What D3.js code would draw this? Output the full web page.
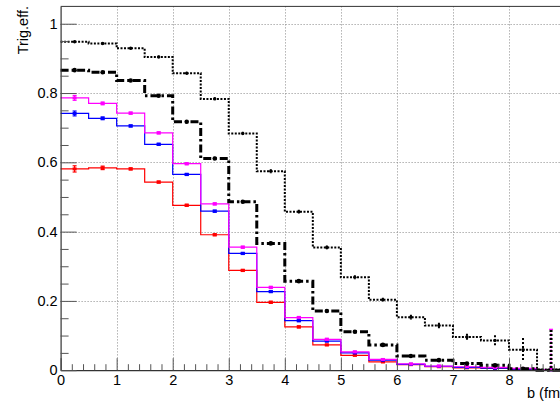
<!DOCTYPE html>
<html>
<head>
<meta charset="utf-8">
<script src="https://cdn.jsdelivr.net/npm/d3@7"></script>
<style>
  html, body { margin: 0; padding: 0; background: #fff; }
  svg { display: block; font-family: "Liberation Sans", Arial, Helvetica, sans-serif; }
</style>
</head>
<body>
<svg id="chart" width="560" height="403"></svg>
<script>
// Lower edges of the impact-parameter bins (fm), bin width 0.5 fm
const binLow = [0, 0.5, 1, 1.5, 2, 2.5, 3, 3.5, 4, 4.5, 5, 5.5, 6, 6.5, 7, 7.5, 8, 8.5];
const binWidth = 0.5;

// Trigger efficiency per bin for each selection
const effDotted   = [0.948, 0.943, 0.929, 0.904, 0.857, 0.783, 0.683, 0.574, 0.457, 0.354, 0.268, 0.203, 0.153, 0.129, 0.096, 0.086, 0.059, 0.002];
const errDotted   = [0.003, 0.003, 0.003, 0.004, 0.004, 0.005, 0.005, 0.006, 0.006, 0.006, 0.006, 0.006, 0.007, 0.008, 0.009, 0.015, 0.034, 0.010];
const effDashDot  = [0.866, 0.860, 0.836, 0.792, 0.717, 0.611, 0.486, 0.366, 0.257, 0.171, 0.111, 0.073, 0.041, 0.029, 0.019, 0.014, 0.004, 0.000];
const errDashDot  = [0.003, 0.003, 0.003, 0.004, 0.004, 0.005, 0.005, 0.005, 0.005, 0.005, 0.004, 0.004, 0.004, 0.004, 0.004, 0.004, 0.004, 0.116];
const effMagenta  = [0.786, 0.770, 0.742, 0.685, 0.596, 0.480, 0.355, 0.239, 0.152, 0.089, 0.053, 0.031, 0.018, 0.012, 0.010, 0.008, 0.005, 0.002];
const errMagenta  = [0.007, 0.004, 0.003, 0.003, 0.003, 0.003, 0.003, 0.003, 0.003, 0.003, 0.002, 0.002, 0.002, 0.002, 0.002, 0.002, 0.002, 0.116];
const effBlue     = [0.741, 0.727, 0.705, 0.652, 0.565, 0.459, 0.337, 0.227, 0.143, 0.084, 0.050, 0.029, 0.017, 0.011, 0.008, 0.006, 0.003, 0.001];
const errBlue     = [0.007, 0.004, 0.003, 0.003, 0.003, 0.003, 0.003, 0.003, 0.003, 0.002, 0.002, 0.002, 0.002, 0.002, 0.002, 0.002, 0.002, 0.002];
const effRed      = [0.581, 0.584, 0.581, 0.543, 0.476, 0.391, 0.288, 0.196, 0.125, 0.073, 0.043, 0.024, 0.016, 0.010, 0.007, 0.005, 0.002, 0.001];
const errRed      = [0.009, 0.005, 0.003, 0.003, 0.003, 0.003, 0.003, 0.003, 0.003, 0.002, 0.002, 0.002, 0.002, 0.002, 0.002, 0.002, 0.002, 0.002];

// Axis tick values and labels
const xMajor = [0, 1, 2, 3, 4, 5, 6, 7, 8, 9, 10];
const xLabels = ["0", "1", "2", "3", "4", "5", "6", "7", "8", "", ""];
const yMajor = [0, 0.2, 0.4, 0.6, 0.8, 1];
const yLabels = ["0", "0.2", "0.4", "0.6", "0.8", "1"];
const xTitle = "b (fm)";
const yTitle = "Trig.eff.";

const svg = d3.select("#chart");
const frame = { left: 60.6, top: 6.4, bottom: 370.2, right: 621.1 };

const x = d3.scaleLinear().domain([0, 10]).range([frame.left, frame.right]);
const y = d3.scaleLinear().domain([0, 1.05]).range([frame.bottom, frame.top]);

svg.append("rect").attr("width", 560).attr("height", 403).attr("fill", "#fff");

// Dotted grid at the major ticks
const grid = svg.append("g").attr("stroke", "#8a8a8a").attr("stroke-width", 1)
  .attr("stroke-dasharray", "1,2").attr("fill", "none");
grid.selectAll("line.gx").data(xMajor.filter(v => v > 0 && v < 10)).join("line")
  .attr("x1", d => Math.round(x(d)) + 0.5).attr("x2", d => Math.round(x(d)) + 0.5)
  .attr("y1", frame.top).attr("y2", frame.bottom);
grid.selectAll("line.gy").data(yMajor.filter(v => v > 0)).join("line")
  .attr("y1", d => Math.round(y(d)) + 0.5).attr("y2", d => Math.round(y(d)) + 0.5)
  .attr("x1", frame.left).attr("x2", frame.right);

// Frame
svg.append("line").attr("x1", frame.left).attr("x2", frame.right)
  .attr("y1", frame.top).attr("y2", frame.top).attr("stroke", "#333").attr("stroke-width", 1);

// Histogram series: step outline, markers and error bars
const series = [
  { eff: effRed, err: errRed, color: "#ff0000", width: 1.2, dash: null, marker: "square" },
  { eff: effBlue, err: errBlue, color: "#0000ff", width: 1.2, dash: null, marker: "square" },
  { eff: effMagenta, err: errMagenta, color: "#ff00ff", width: 1.2, dash: null, marker: "square" },
  { eff: effDashDot, err: errDashDot, color: "#000000", width: 3, dash: "8,3,2.5,3", marker: "dot" },
  { eff: effDotted, err: errDotted, color: "#000000", width: 2, dash: "2,1.5", marker: "dot" }
];

const step = d3.line().x(d => x(d[0])).y(d => y(d[1]));
const plot = svg.append("g");

series.forEach(s => {
  const pts = binLow.flatMap((lo, i) => [[lo, s.eff[i]], [lo + binWidth, s.eff[i]]]);
  pts.push([binLow[binLow.length - 1] + binWidth, 0]);
  plot.append("path").attr("d", step(pts)).attr("fill", "none")
    .attr("stroke", s.color).attr("stroke-width", s.width)
    .attr("stroke-dasharray", s.dash);

  const g = plot.append("g").attr("stroke", s.color).attr("stroke-width", s.marker === "dot" ? Math.min(s.width, 2) : 1.2);
  binLow.forEach((lo, i) => {
    const cx = x(lo + binWidth / 2);
    const e = s.err[i];
    const top = y(s.eff[i] + e), bot = y(Math.max(s.eff[i] - e, 0));
    const dotted = s.marker === "dot" || e > 0.05;
    g.append("line").attr("x1", cx).attr("x2", cx).attr("y1", top).attr("y2", bot)
      .attr("stroke-width", e > 0.05 ? s.width : null)
      .attr("stroke-dasharray", dotted ? "2,2" : null);
    if (s.marker === "square") {
      g.append("line").attr("x1", cx - 2).attr("x2", cx + 2).attr("y1", top).attr("y2", top);
      g.append("line").attr("x1", cx - 2).attr("x2", cx + 2).attr("y1", bot).attr("y2", bot);
      plot.append("rect").attr("x", cx - 2).attr("y", y(s.eff[i]) - 1.5)
        .attr("width", 4).attr("height", 3).attr("fill", s.color);
    } else if (s.eff[i] > 0.003) {
      plot.append("circle").attr("cx", cx).attr("cy", y(s.eff[i]))
        .attr("r", s.width > 2 ? 2.3 : 1.7).attr("fill", s.color);
    }
  });
});

// Axes with ticks pointing into the frame
svg.append("g").attr("transform", `translate(0,${frame.bottom})`)
  .call(d3.axisBottom(x).tickValues(xMajor).tickFormat((d, i) => xLabels[i])
    .tickSize(-12).tickPadding(5).tickSizeOuter(0));
svg.append("g").attr("transform", `translate(0,${frame.bottom})`)
  .call(d3.axisBottom(x).tickValues(d3.range(0, 50).map(i => i * 0.2).filter(v => Math.abs(v - Math.round(v)) > 0.01))
    .tickFormat("").tickSize(-6).tickSizeOuter(0))
  .call(g => g.select(".domain").remove());

svg.append("g").attr("transform", `translate(${frame.left},0)`)
  .call(d3.axisLeft(y).tickValues(yMajor).tickFormat((d, i) => yLabels[i])
    .tickSize(-16).tickPadding(3).tickSizeOuter(0));
svg.append("g").attr("transform", `translate(${frame.left},0)`)
  .call(d3.axisLeft(y).tickValues(d3.range(0, 21).map(i => i * 0.05).filter(v => Math.abs(v * 5 - Math.round(v * 5)) > 0.01))
    .tickFormat("").tickSize(-8).tickSizeOuter(0))
  .call(g => g.select(".domain").remove());

svg.selectAll(".tick line").attr("stroke", "#555");
svg.selectAll(".domain").attr("stroke", "#333").attr("stroke-width", 1.2);
svg.selectAll(".tick text").attr("font-size", 14.5).attr("fill", "#000")
  .attr("font-family", "'Liberation Sans', Arial, Helvetica, sans-serif");

// Axis titles
svg.append("text").attr("x", 527).attr("y", 397.5).attr("font-size", 14.5)
  .attr("fill", "#000").text(xTitle);
svg.append("text").attr("transform", "translate(28,6) rotate(-90)")
  .attr("text-anchor", "end").attr("font-size", 14.5).attr("fill", "#000").text(yTitle);
</script>
</body>
</html>
